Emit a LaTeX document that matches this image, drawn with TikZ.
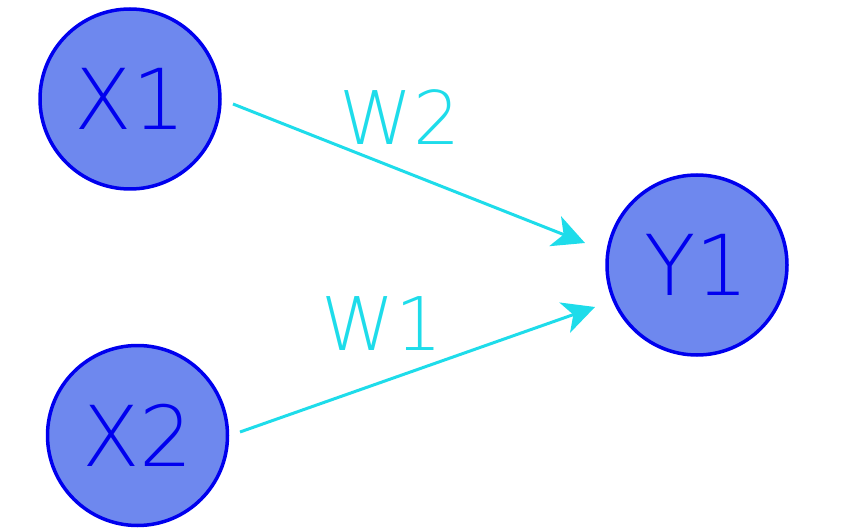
\documentclass[tikz,border=0pt]{standalone}
\usepackage{fontspec}
\setmainfont{DejaVu Sans ExtraLight}
\usetikzlibrary{arrows.meta}
\definecolor{nodefill}{HTML}{6E88EE}
\definecolor{nodeline}{HTML}{0000EE}
\definecolor{arrowcol}{HTML}{1EDCEA}
\tikzset{
  neuron/.style={circle, draw=nodeline, fill=nodefill, line width=3.5pt, minimum size=180pt, inner sep=0pt, text=nodeline, font=\fontsize{84}{84}\selectfont},
  weight/.style={-{Stealth[length=32pt,width=32pt,inset=9pt]}, draw=arrowcol, line width=3pt},
  wlabel/.style={text=arrowcol, font=\fontsize{74}{74}\selectfont, inner sep=0pt}
}
\begin{document}
\begin{tikzpicture}[x=1pt,y=1pt]
\useasboundingbox (0,0) rectangle (848,528);
\node[neuron] (x1) at (130,429) {X1};
\node[neuron] (x2) at (137.5,92.5) {X2};
\node[neuron] (y1) at (697,263) {Y1};
\coordinate (s1) at (233,424);
\coordinate (e1) at (585,285);
\coordinate (s2) at (240,96);
\coordinate (e2) at (595,221);
\draw[weight] (s1) -- (e1);
\draw[weight] (s2) -- (e2);
\node[wlabel] (w2) at (400,411) {W2};
\node[wlabel] (w1) at (382,204) {W1};
\end{tikzpicture}
\end{document}
